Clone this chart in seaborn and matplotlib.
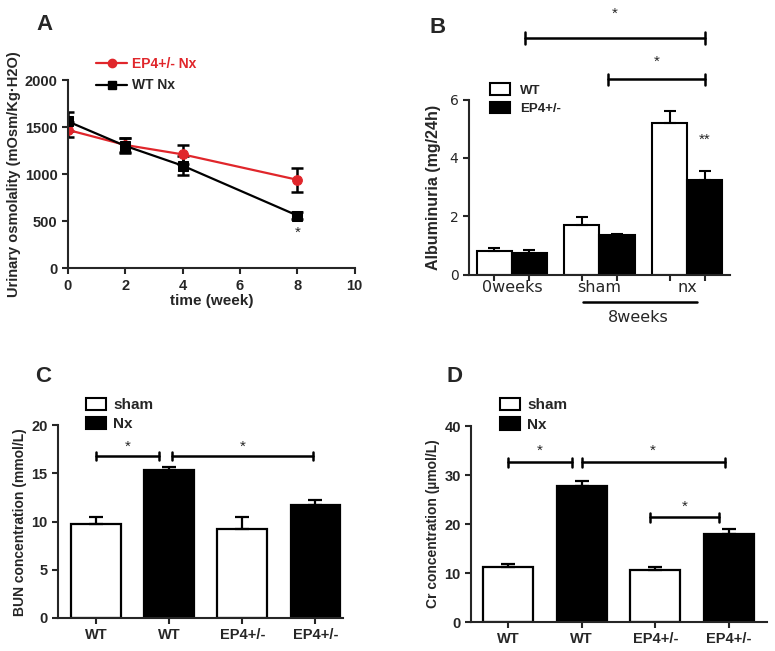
import numpy as np
import pandas as pd
import seaborn as sns
import matplotlib.pyplot as plt
from matplotlib.patches import Patch
from matplotlib.lines import Line2D

# ---- data ----
# Panel A: urinary osmolality over time
weeks = [0, 2, 4, 8]
osm_ep4 = [1470, 1310, 1210, 940]
osm_ep4_err = [80, 70, 100, 125]
osm_wt = [1560, 1300, 1090, 560]
osm_wt_err = [100, 80, 100, 40]

# Panel B: albuminuria
alb_groups = ["0weeks", "sham", "nx"]
alb_wt = [0.80, 1.70, 5.20]
alb_wt_err = [0.12, 0.28, 0.42]
alb_ep4 = [0.75, 1.35, 3.25]
alb_ep4_err = [0.10, 0.03, 0.30]

# Panels C and D: BUN and creatinine
bar_keys = ["WT_sham", "WT_Nx", "EP4_sham", "EP4_Nx"]
bar_labels = ["WT", "WT", "EP4+/-", "EP4+/-"]
bar_treat = ["sham", "Nx", "sham", "Nx"]
bun = [9.8, 15.4, 9.2, 11.7]
bun_err = [0.7, 0.3, 1.3, 0.5]
cr = [11.3, 27.8, 10.6, 18.0]
cr_err = [0.6, 1.0, 0.6, 1.0]

sns.set_style("ticks")
plt.rcParams["font.family"] = ["Liberation Sans", "DejaVu Sans"]
plt.rcParams["axes.linewidth"] = 1.5
plt.rcParams["xtick.major.width"] = 1.5
plt.rcParams["ytick.major.width"] = 1.5
plt.rcParams["xtick.major.size"] = 4
plt.rcParams["ytick.major.size"] = 4

fig = plt.figure(figsize=(7.75, 6.51), dpi=100)
axA = fig.add_axes([0.0877, 0.588, 0.370, 0.289])
axB = fig.add_axes([0.605, 0.578, 0.337, 0.269])
axC = fig.add_axes([0.0748, 0.0507, 0.368, 0.296])
axD = fig.add_axes([0.608, 0.0445, 0.382, 0.301])

BOLD = dict(fontweight="bold")
TICK = 10.5


def style_axes(ax):
    sns.despine(ax=ax)
    for lab in ax.get_xticklabels() + ax.get_yticklabels():
        lab.set_fontweight("bold")
        lab.set_fontsize(TICK)


def bracket(ax, x0, x1, y, cap, star, star_y):
    ax.plot([x0, x1], [y, y], color="black", lw=1.8, clip_on=False)
    for x in (x0, x1):
        ax.plot([x, x], [y - cap, y + cap], color="black", lw=1.8, clip_on=False)
    ax.text((x0 + x1) / 2, star_y, star, ha="center", va="center",
            fontsize=11, clip_on=False)


# ---- Panel A ----
dfA = pd.DataFrame({
    "week": weeks * 2,
    "osm": osm_ep4 + osm_wt,
    "group": ["EP4+/- Nx"] * 4 + ["WT Nx"] * 4,
})
colA = {"EP4+/- Nx": "#e0262b", "WT Nx": "black"}
sns.lineplot(data=dfA, x="week", y="osm", hue="group", style="group",
             markers={"EP4+/- Nx": "o", "WT Nx": "s"}, dashes=False,
             palette=colA, markersize=7, lw=1.6, ax=axA, legend=False,
             markeredgecolor=None)
axA.errorbar(weeks, osm_ep4, yerr=osm_ep4_err, fmt="none", ecolor="black",
             elinewidth=1.8, capsize=4, capthick=1.8, zorder=1)
axA.errorbar(weeks, osm_wt, yerr=osm_wt_err, fmt="none", ecolor="black",
             elinewidth=1.8, capsize=4, capthick=1.8, zorder=1)
axA.set_xlim(0, 10)
axA.set_ylim(0, 2000)
axA.set_xticks([0, 2, 4, 6, 8, 10])
axA.set_yticks([0, 500, 1000, 1500, 2000])
axA.set_xlabel("time (week)", fontsize=11, **BOLD, labelpad=1)
axA.set_ylabel("Urinary osmolality (mOsm/Kg·H2O)", fontsize=10.5, **BOLD,
               labelpad=3)
axA.text(8, 372, "*", ha="center", va="center", fontsize=11)
style_axes(axA)
handlesA = [Line2D([], [], color=colA[g], marker=m, markersize=6, lw=1.6)
            for g, m in [("EP4+/- Nx", "o"), ("WT Nx", "s")]]
legA = axA.legend(handlesA, ["EP4+/- Nx", "WT Nx"], loc="upper left",
                  bbox_to_anchor=(0.055, 1.19), frameon=False,
                  prop=dict(weight="bold", size=10), handlelength=2.2,
                  handletextpad=0.4, labelspacing=0.55)
legA.get_texts()[0].set_color("#e0262b")
fig.text(0.058, 0.962, "A", fontsize=16, **BOLD, ha="center", va="center")

# ---- Panel B ----
dfB = pd.DataFrame({
    "group": alb_groups * 2,
    "alb": alb_wt + alb_ep4,
    "geno": ["WT"] * 3 + ["EP4+/-"] * 3,
})
sns.barplot(data=dfB, x="group", y="alb", hue="geno", order=alb_groups,
            hue_order=["WT", "EP4+/-"], palette={"WT": "white", "EP4+/-": "black"},
            edgecolor="black", linewidth=1.5, width=0.8, errorbar=None,
            legend=False, ax=axB)
bar_x = []
for cont, errs in zip(axB.containers, [alb_wt_err, alb_ep4_err]):
    xs = [p.get_x() + p.get_width() / 2 for p in cont]
    hs = [p.get_height() for p in cont]
    bar_x += xs
    axB.errorbar(xs, hs, yerr=[np.zeros(len(errs)), errs], fmt="none",
                 ecolor="black", elinewidth=1.5, capsize=4, capthick=1.5)
axB.set_xlim(-0.49, 2.49)
axB.set_ylim(0, 6)
axB.set_yticks([0, 2, 4, 6])
axB.set_xticks(sorted(bar_x))
axB.set_xticklabels([])
axB.set_xticks(range(3), minor=True)
axB.set_xticklabels(alb_groups, minor=True, fontsize=11.5,
                    family="DejaVu Sans")
axB.tick_params(axis="x", which="minor", length=0, pad=4)
axB.set_xlabel("")
axB.set_ylabel("Albuminuria (mg/24h)", fontsize=11.5, **BOLD, labelpad=6)
sns.despine(ax=axB)
for lab in axB.get_yticklabels():
    lab.set_fontsize(10)
    lab.set_family("DejaVu Sans")
bracket(axB, 0.15, 2.2, 8.12, 0.2, "*", 8.95)
bracket(axB, 1.1, 2.2, 6.69, 0.2, "*", 7.3)
axB.text(2.2, 4.63, "**", ha="center", va="center", fontsize=11)
axB.plot([0.81, 2.11], [-0.154, -0.154], color="black", lw=1.8,
         transform=axB.get_xaxis_transform(), clip_on=False)
axB.text(1.44, -0.246, "8weeks", ha="center", va="center", fontsize=11.5,
         family="DejaVu Sans", transform=axB.get_xaxis_transform())
handlesB = [Patch(facecolor="white", edgecolor="black", lw=1.5),
            Patch(facecolor="black", edgecolor="black", lw=1.5)]
axB.legend(handlesB, ["WT", "EP4+/-"], loc="upper left",
           bbox_to_anchor=(0.035, 1.16), frameon=False,
           prop=dict(weight="bold", size=9.5), handlelength=1.5,
           handleheight=1.0, labelspacing=0.35)
fig.text(0.565, 0.958, "B", fontsize=16, **BOLD, ha="center", va="center")


# ---- Panels C and D ----
def treat_bars(ax, vals, errs, ylim, yticks, ylabel, xlim):
    df = pd.DataFrame({"key": bar_keys, "val": vals, "treat": bar_treat})
    sns.barplot(data=df, x="key", y="val", hue="treat", order=bar_keys,
                hue_order=["sham", "Nx"], palette={"sham": "white", "Nx": "black"},
                edgecolor="black", linewidth=1.6, width=0.68, dodge=False,
                errorbar=None, legend=False, ax=ax)
    ax.errorbar(range(len(vals)), vals, yerr=[np.zeros(len(errs)), errs],
                fmt="none", ecolor="black", elinewidth=1.6, capsize=5,
                capthick=1.6)
    ax.set_xlim(*xlim)
    ax.set_ylim(*ylim)
    ax.set_yticks(yticks)
    ax.set_xticks(range(len(vals)))
    ax.set_xticklabels(bar_labels)
    ax.set_xlabel("")
    ax.set_ylabel(ylabel, fontsize=10, **BOLD, labelpad=3)
    style_axes(ax)
    handles = [Patch(facecolor="white", edgecolor="black", lw=1.5),
               Patch(facecolor="black", edgecolor="black", lw=1.5)]
    ax.legend(handles, ["sham", "Nx"], loc="upper left",
              bbox_to_anchor=(0.05, 1.215), frameon=False,
              prop=dict(weight="bold", size=11), handlelength=1.3,
              handleheight=0.9, handletextpad=0.5, labelspacing=0.3)


treat_bars(axC, bun, bun_err, (0, 20), [0, 5, 10, 15, 20],
           "BUN concentration (mmol/L)", (-0.52, 3.38))
bracket(axC, 0.0, 0.86, 16.8, 0.45, "*", 17.8)
bracket(axC, 1.04, 2.97, 16.8, 0.45, "*", 17.8)
fig.text(0.055, 0.421, "C", fontsize=16, **BOLD, ha="center", va="center")

treat_bars(axD, cr, cr_err, (0, 40), [0, 10, 20, 30, 40],
           "Cr concentration (µmol/L)", (-0.5, 3.52))
bracket(axD, 0.0, 0.87, 32.6, 0.9, "*", 35.0)
bracket(axD, 1.0, 2.94, 32.6, 0.9, "*", 35.0)
bracket(axD, 1.93, 2.86, 21.4, 0.9, "*", 23.6)
fig.text(0.587, 0.421, "D", fontsize=16, **BOLD, ha="center", va="center")

fig.savefig("out.png", dpi=100)
